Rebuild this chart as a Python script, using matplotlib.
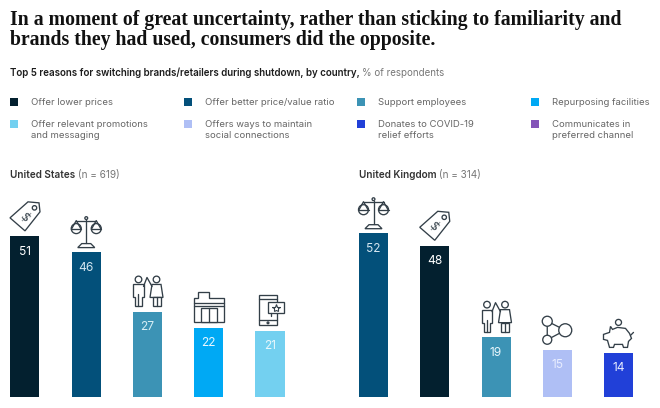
import numpy as np
import matplotlib
matplotlib.use("Agg")
import matplotlib.pyplot as plt
from matplotlib.patches import Rectangle, Circle, Polygon

W, H = 660, 408
title_lines = ["In a moment of great uncertainty, rather than sticking to familiarity and",
               "brands they had used, consumers did the opposite."]
sub_bold = "Top 5 reasons for switching brands/retailers during shutdown, by country,"
sub_light = "% of respondents"

legend_labels = ["Offer lower prices", "Offer better price/value ratio", "Support employees", "Repurposing facilities",
                 "Offer relevant promotions\nand messaging", "Offers ways to maintain\nsocial connections",
                 "Donates to COVID-19\nrelief efforts", "Communicates in\npreferred channel"]
legend_colors = ["#03202f", "#03507a", "#3c93b5", "#00a9f4", "#73d0f0", "#afbff5", "#2140d8", "#8454b8"]

us_name, us_n = "United States", "(n = 619)"
us_values = [51, 46, 27, 22, 21]
us_colors = ["#03202f", "#03507a", "#3c93b5", "#00a9f4", "#73d0f0"]
us_icons = ["tag", "scales", "people", "store", "phone"]
us_labels = ["#ffffff", "#d5e6f0", "#d5eef5", "#e8f7ff", "#e8f7fc"]

uk_name, uk_n = "United Kingdom", "(n = 314)"
uk_values = [52, 48, 19, 15, 14]
uk_colors = ["#03507a", "#03202f", "#3c93b5", "#afbff5", "#2140d8"]
uk_icons = ["scales", "tag", "people", "network", "piggy"]
uk_labels = ["#d5e6f0", "#ffffff", "#e8f7fc", "#e8edff", "#e8edff"]

SANS = ["Inter", "Liberation Sans", "DejaVu Sans"]
fig = plt.figure(figsize=(W / 100, H / 100), dpi=100, facecolor="white")
bg = fig.add_axes([0, 0, 1, 1])
bg.set_xlim(0, W); bg.set_ylim(H, 0); bg.axis("off")

for i, line_ in enumerate(title_lines):
    bg.text(10, 19.5 + i * 21, line_, family="Liberation Serif", weight="bold", fontsize=14.25,
            color="#111111", va="center", ha="left")

t = bg.text(10, 73, sub_bold, family=SANS, weight="semibold", fontsize=7.0, color="#1c1c1c", va="center")
fig.canvas.draw()
end = t.get_window_extent().transformed(bg.transData.inverted()).x1
bg.text(end + 2.5, 73, sub_light, family=SANS, fontsize=7.0, color="#777777", va="center")

cols_sq = [10, 184, 357, 531]
for i, (lab, col) in enumerate(zip(legend_labels, legend_colors)):
    c = i % 4; r = i // 4
    y = 102 if r == 0 else 124
    bg.add_patch(Rectangle((cols_sq[c], y - 4), 8, 8, color=col, lw=0))
    for k, part in enumerate(lab.split("\n")):
        bg.text(cols_sq[c] + 21, y + 0.5 + k * 10.7, part, family=SANS, fontsize=6.85,
                color="#666666", va="center")

ICON = "#333f48"
LW = 0.95
def line(xs, ys, lw=LW):
    bg.plot(xs, ys, color=ICON, lw=lw, solid_capstyle="round", solid_joinstyle="round", zorder=4)
def circ(x, y, r, fc="white"):
    bg.add_patch(Circle((x, y), r, fc=fc, ec=ICON, lw=LW, zorder=3))
def box(x, y, w, h):
    bg.add_patch(Rectangle((x, y), w, h, fc="white", ec=ICON, lw=LW, zorder=3))
def poly(pts, cx, b):
    p = np.asarray(pts, float)
    bg.add_patch(Polygon(np.c_[cx + p[:, 0], b + p[:, 1]], closed=True, fc="white", ec=ICON, lw=LW, zorder=3))

def icon_tag(cx, b):
    poly([[-15, -13], [0, 0], [15, -19], [14, -28], [3, -29]], cx, b)
    circ(cx + 9.5, b - 23, 2.2)
    bg.text(cx - 0.5, b - 13.5, "$", rotation=-50, family="DejaVu Sans", fontsize=9.5, color=ICON,
            ha="center", va="center", zorder=5)

def icon_scales(cx, b):
    line([cx, cx], [b - 27, b - 4])
    line([cx - 10, cx + 10], [b - 26, b - 26])
    circ(cx, b - 28.5, 1.4)
    poly([[-8.5, 1], [8.5, 1], [4.5, -3], [-4.5, -3]], cx, b)
    for s in (-1, 1):
        x0 = cx + s * 10
        line([x0 - 4.5, x0, x0 + 4.5], [b - 18, b - 26, b - 18])
        circ(x0, b - 18, 5)
        line([x0 - 5, x0 + 5], [b - 18, b - 18])

def icon_people(cx, b):
    circ(cx - 9, b - 27, 3.3)
    circ(cx + 9, b - 27, 3.3)
    line([cx - 4, cx - 0.5, cx + 4.5], [b - 20, b - 29, b - 20])
    poly([[-14.5, -22], [-4, -22], [-4, -9], [-6, -9], [-6, 0], [-12.5, 0], [-12.5, -9], [-14.5, -9]], cx, b)
    line([cx - 9.2, cx - 9.2], [b - 12, b])
    poly([[4.5, -22], [13.5, -22], [15.5, -9], [2.5, -9]], cx, b)
    box(cx + 5, b - 9, 8, 9)
    line([cx + 9, cx + 9], [b - 9, b])

def icon_store(cx, b):
    poly([[-15, 0], [15, 0], [15, -24], [0, -24], [0, -30], [-11, -30], [-11, -24], [-15, -24]], cx, b)
    line([cx - 15, cx + 15], [b - 19, b - 19])
    line([cx - 15, cx + 15], [b - 16, b - 16])
    box(cx - 8, b - 14, 16, 14)
    line([cx, cx], [b - 14, b])

def icon_phone(cx, b):
    box(cx - 11, b - 30, 18, 30)
    line([cx - 11, cx + 7], [b - 5, b - 5])
    line([cx - 11, cx + 7], [b - 26, b - 26])
    circ(cx - 2, b - 2.5, 0.9)
    box(cx - 2, b - 23, 16, 11)
    bg.plot([cx + 5.5], [b - 17.5], marker="*", ms=6, mfc="white", mec=ICON, mew=0.8, zorder=5)
    line([cx + 1, cx + 1], [b - 12, b - 9])

def icon_network(cx, b):
    pts = [(cx - 10, b - 23), (cx + 8, b - 14), (cx - 10, b - 4.5)]
    line([pts[0][0], pts[1][0], pts[2][0], pts[0][0]], [pts[0][1], pts[1][1], pts[2][1], pts[0][1]])
    for (p, r) in zip(pts, (5, 6.5, 4.5)):
        bg.add_patch(Circle(p, r, fc="white", ec=ICON, lw=LW, zorder=5))

def icon_piggy(cx, b):
    poly([[-9, 0], [-5, 0], [-4, -3], [4, -3], [5, 0], [9, 0], [10, -6], [13, -9], [11, -14],
          [7, -19], [-1, -20], [-6, -18], [-8, -21], [-9, -15], [-15, -13], [-15, -8], [-11, -7]], cx, b)
    line([cx + 12, cx + 15], [b - 12, b - 15])
    circ(cx, b - 25, 3)

ICONS = dict(tag=icon_tag, scales=icon_scales, people=icon_people, store=icon_store,
             phone=icon_phone, network=icon_network, piggy=icon_piggy)

PX_PER = 3.15
BASE = 397
STEP = 61.25
BAR_W = 29

def panel(name, n, values, colors, labels, icons, x0):
    bg_t = bg.text(x0 - 14.5, 175, name, family=SANS, weight="semibold", fontsize=7.2, color="#333333", va="center")
    fig.canvas.draw()
    e = bg_t.get_window_extent().transformed(bg.transData.inverted()).x1
    bg.text(e + 2.5, 175, n, family=SANS, fontsize=7.2, color="#777777", va="center")
    left_px = x0 - STEP / 2
    ax = fig.add_axes([left_px / W, (H - BASE) / H, 5 * STEP / W, 165 / H])
    ax.set_xlim(-0.5, 4.5); ax.set_ylim(0, 165 / PX_PER); ax.axis("off")
    ax.patch.set_alpha(0)
    xs = np.arange(len(values))
    ax.bar(xs, values, width=BAR_W / STEP, color=colors, lw=0)
    for i, v in enumerate(values):
        ax.annotate(str(v), (i, v), xytext=(0, -15.5 * 0.72), textcoords="offset points", ha="center",
                    va="center", family=SANS, fontsize=8.6, color=labels[i])
        ICONS[icons[i]](x0 + i * STEP, BASE - v * PX_PER - 5.5)

panel(us_name, us_n, us_values, us_colors, us_labels, us_icons, 25)
panel(uk_name, uk_n, uk_values, uk_colors, uk_labels, uk_icons, 373.5)

fig.savefig("out.png", dpi=100)
